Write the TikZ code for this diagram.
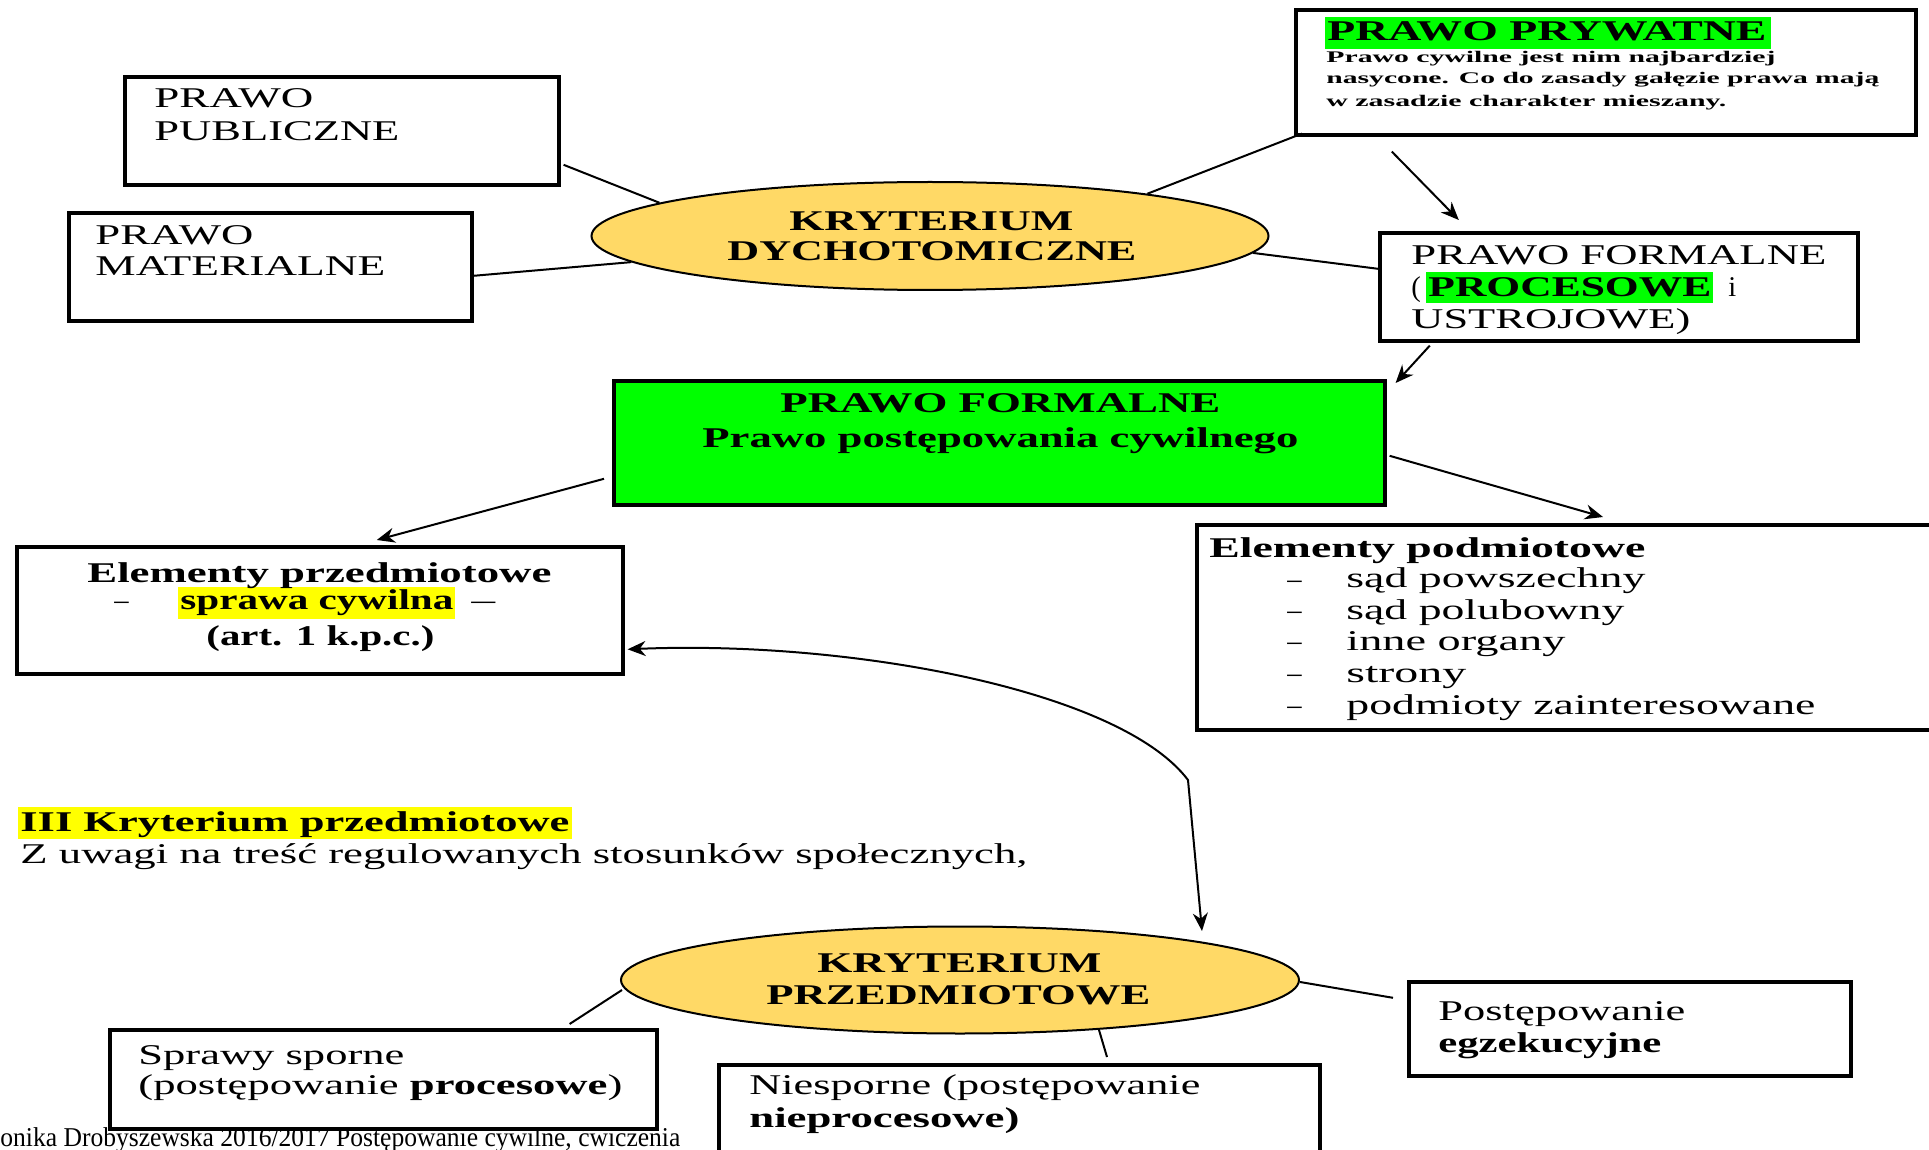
\documentclass[tikz,border=0pt]{standalone}
\usepackage{fontspec}
\setmainfont{Liberation Serif}
\usepackage{graphicx}
\usetikzlibrary{shapes.geometric,arrows.meta}
\newdimen\pxu \pxu=0.5pt
\newcommand{\fw}[2]{\resizebox{#1\pxu}{\height}{#2}}
\definecolor{ellfill}{HTML}{FFD966}
\definecolor{hlgreen}{HTML}{00FF00}
\definecolor{hlyellow}{HTML}{FFFF00}
\begin{document}
\begin{tikzpicture}[x=0.5pt,y=-0.5pt,
  box/.style={draw=black, line width=1.8pt, rectangle, inner sep=0pt, anchor=north west},
  ell/.style={draw=black, line width=1pt, fill=ellfill, ellipse, inner sep=0pt},
  txt/.style={anchor=base west, inner sep=0pt, font=\fontsize{14.3pt}{16pt}\selectfont},
  txtb/.style={anchor=base west, inner sep=0pt, font=\fontsize{14.3pt}{16pt}\selectfont\bfseries},
  small/.style={anchor=base west, inner sep=0pt, font=\fontsize{8.1pt}{9pt}\selectfont\bfseries},
  conn/.style={draw=black, line width=1pt},
  arr/.style={conn, -{Stealth[length=9pt,width=7.5pt]}},
]
\useasboundingbox (0,0) rectangle (1929,1150);
% boxes
\node[box, minimum width=217pt, minimum height=54pt] (pub) at (123,75) {};
\node[box, minimum width=201.5pt, minimum height=54pt] (mat) at (67,211) {};
\node[box, minimum width=310pt, minimum height=62.5pt] (pryw) at (1294,8) {};
\node[box, minimum width=239pt, minimum height=54pt] (form) at (1378,231) {};
\node[box, fill=hlgreen, minimum width=385.5pt, minimum height=62pt] (green) at (612,379) {};
\node[box, minimum width=303pt, minimum height=63.5pt] (przedm) at (15,545) {};
\node[box, minimum width=372.5pt, minimum height=102.5pt] (podm) at (1195,523) {};
\node[box, minimum width=273.5pt, minimum height=49.5pt] (sprawy) at (108,1028) {};
\node[box, minimum width=300.5pt, minimum height=58.5pt] (niesp) at (717,1063) {};
\node[box, minimum width=221pt, minimum height=47pt] (egz) at (1407,980) {};
% ellipses
\node[ell, minimum width=338.5pt, minimum height=54pt] (ell1) at (930,236) {};
\node[ell, minimum width=339pt, minimum height=53.5pt] (ell2) at (960,980) {};
% highlights
\fill[hlgreen] (1325,17) rectangle (1771,49);
\fill[hlgreen] (1426,272) rectangle (1713,303);
\fill[hlyellow] (178,587) rectangle (455,619);
\fill[hlyellow] (18,807) rectangle (572,839);
% connectors
\draw[conn] ([shift={(3,34)}]pub.east) -- (ell1.173);
\draw[conn] ([shift={(0,9)}]mat.east) -- (ell1.185);
\draw[conn] (ell1.11) -- ([shift={(8,-3)}]pryw.south west);
\draw[conn] (ell1.-3) -- ([shift={(0,-18)}]form.west);
\draw[arr] ([shift={(-214,15)}]pryw.south) -- ([shift={(-160,-11)}]form.north);
\draw[arr] ([shift={(-189,3)}]form.south) -- ([shift={(9,4)}]green.north east);
\draw[arr] ([shift={(-8,36)}]green.west) -- ([shift={(57,-5)}]przedm.north);
\draw[arr] ([shift={(3,13)}]green.east) -- ([shift={(408,-6)}]podm.north west);
\draw[conn, {Stealth[length=9pt,width=7.5pt]}-{Stealth[length=9pt,width=7.5pt]}]
  ([shift={(3,39)}]przedm.east) .. controls (850,640) and (1120,690) .. (1188,780)
  -- ([shift={(242,5.5)}]ell2.north);
\draw[conn] ([shift={(2,10)}]ell2.west) -- ([shift={(-89,-4)}]sprawy.north east);
\draw[conn] ([shift={(139,-4.5)}]ell2.south) -- ([shift={(390,-6)}]niesp.north west);
\draw[conn] ([shift={(0,2)}]ell2.east) -- ([shift={(-14,-31)}]egz.west);
% texts
\node[txt] (t1) at (154,108) {\fw{159}{PRAWO}};
\node[txt] (t2) at (154,141) {\fw{245}{PUBLICZNE}};
\node[txt] (t3) at (95,245) {\fw{158}{PRAWO}};
\node[txt] (t4) at (95,276) {\fw{290}{MATERIALNE}};
\node[txtb] (t5) at (789,231) {\fw{284}{KRYTERIUM}};
\node[txtb] (t6) at (727,261) {\fw{409}{DYCHOTOMICZNE}};
\node[txtb] (t7) at (1327,41) {\fw{439}{PRAWO PRYWATNE}};
\node[small] (t8) at (1326,63) {\fw{449}{Prawo cywilne jest nim najbardziej}};
\node[small] (t9) at (1326,84) {\fw{553}{nasycone. Co do zasady gałęzie prawa mają}};
\node[small] (t10) at (1326,107) {\fw{400}{w zasadzie charakter mieszany.}};
\node[txt] (t11) at (1411,265) {\fw{415}{PRAWO FORMALNE}};
\node[txt] (t12) at (1411,297) {(};
\node[txtb] (t13) at (1428,297) {\fw{283}{PROCESOWE}};
\node[txt] (t14) at (1728,297) {i};
\node[txt] (t15) at (1411,329) {\fw{279}{USTROJOWE)}};
\node[txtb] (t16) at (780,413) {\fw{440}{PRAWO FORMALNE}};
\node[txtb] (t17) at (702,448) {\fw{596}{Prawo postępowania cywilnego}};
\node[txtb] (t18) at (87,582) {\fw{464}{Elementy przedmiotowe}};
\node[txt] (t19) at (114,609) {–};
\node[txtb] (t20) at (180,609) {\fw{273}{sprawa cywilna}};
\node[txt] (t21) at (471,609) {\fw{24}{—}};
\node[txtb] (t22) at (206,645) {\fw{228}{(art. 1 k.p.c.)}};
\node[txtb] (t23) at (1209,557) {\fw{436}{Elementy podmiotowe}};
\node[txt] (d1) at (1287,588) {–};
\node[txt] (d2) at (1287,619) {–};
\node[txt] (d3) at (1287,650) {–};
\node[txt] (d4) at (1287,682) {–};
\node[txt] (d5) at (1287,714) {–};
\node[txt] (i1) at (1346,588) {\fw{299}{sąd powszechny}};
\node[txt] (i2) at (1346,619) {\fw{278}{sąd polubowny}};
\node[txt] (i3) at (1346,650) {\fw{219}{inne organy}};
\node[txt] (i4) at (1346,682) {\fw{120}{strony}};
\node[txt] (i5) at (1346,714) {\fw{469}{podmioty zainteresowane}};
\node[txtb] (t24) at (20,831) {\fw{549}{III Kryterium przedmiotowe}};
\node[txt] (t25) at (20,863) {\fw{1007}{Z uwagi na treść regulowanych stosunków społecznych,}};
\node[txtb] (t26) at (817,972) {\fw{284}{KRYTERIUM}};
\node[txtb] (t27) at (766,1004) {\fw{384}{PRZEDMIOTOWE}};
\node[txt] (t28) at (138,1064) {\fw{266}{Sprawy sporne}};
\node[txt] (t29) at (138,1094) {\fw{484}{(postępowanie \textbf{procesowe})}};
\node[txt] (t30) at (749,1094) {\fw{451}{Niesporne (postępowanie}};
\node[txtb] (t31) at (749,1127) {\fw{270}{nieprocesowe)}};
\node[txt] (t32) at (1438,1020) {\fw{247}{Postępowanie}};
\node[txtb] (t33) at (1438,1052) {\fw{223}{egzekucyjne}};
\node[txt, font=\fontsize{13.6pt}{15pt}\selectfont] (foot) at (0,1146) {\fw{680}{onika Drobyszewska 2016/2017 Postępowanie cywilne, ćwiczenia}};
\end{tikzpicture}
\end{document}
